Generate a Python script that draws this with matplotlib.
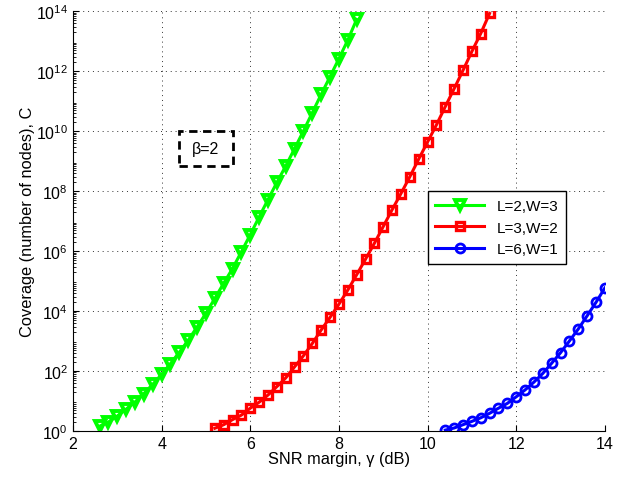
import numpy as np
import matplotlib
matplotlib.use("Agg")
import matplotlib.pyplot as plt
from matplotlib.patches import Rectangle
from matplotlib.ticker import LogLocator, NullFormatter

plt.rcParams['font.family'] = ['Liberation Sans', 'DejaVu Sans']

# SNR margin (dB) and log10 of coverage
snr_g = [2.6, 2.8, 3.0, 3.2, 3.4, 3.6, 3.8, 4.0, 4.2, 4.4, 4.6, 4.8, 5.0, 5.2, 5.4,
         5.6, 5.8, 6.0, 6.2, 6.4, 6.6, 6.8, 7.0, 7.2, 7.4, 7.6, 7.8, 8.0, 8.2, 8.4]
logc_g = [0.16, 0.30, 0.50, 0.73, 0.97, 1.25, 1.56, 1.89, 2.25, 2.63, 3.03, 3.47, 3.93, 4.42, 4.93,
          5.42, 5.98, 6.55, 7.14, 7.72, 8.29, 8.84, 9.42, 10.01, 10.62, 11.23, 11.82, 12.42, 13.04, 13.73]

snr_r = [5.2, 5.4, 5.6, 5.8, 6.0, 6.2, 6.4, 6.6, 6.8, 7.0, 7.2, 7.4, 7.6, 7.8, 8.0, 8.2,
         8.4, 8.6, 8.8, 9.0, 9.2, 9.4, 9.6, 9.8, 10.0, 10.2, 10.4, 10.6, 10.8, 11.0, 11.2, 11.4]
logc_r = [0.09, 0.21, 0.38, 0.53, 0.76, 0.96, 1.20, 1.48, 1.77, 2.14, 2.51, 2.92, 3.37, 3.79, 4.23, 4.70,
          5.21, 5.73, 6.26, 6.82, 7.38, 7.92, 8.48, 9.07, 9.64, 10.21, 10.82, 11.42, 12.03, 12.66, 13.26, 13.93]

snr_b = [10.4, 10.6, 10.8, 11.0, 11.2, 11.4, 11.6, 11.8, 12.0, 12.2, 12.4, 12.6, 12.8, 13.0,
         13.2, 13.4, 13.6, 13.8, 14.0]
logc_b = [0.03, 0.10, 0.21, 0.32, 0.44, 0.59, 0.76, 0.92, 1.14, 1.37, 1.63, 1.92, 2.26, 2.61,
          3.00, 3.40, 3.84, 4.29, 4.77]

labels = ['L=2,W=3', 'L=3,W=2', 'L=6,W=1']
xticks = [2, 4, 6, 8, 10, 12, 14]
yexp = [0, 2, 4, 6, 8, 10, 12, 14]

fig = plt.figure(figsize=(6.32, 4.85), dpi=100)
ax = fig.add_axes([0.1155, 0.1093, 0.8415, 0.8653])

ax.semilogy(snr_g, 10 ** np.array(logc_g), color=(0, 1, 0), lw=2.2, marker='v', ms=7.5,
            mfc='none', mew=2.8, label=labels[0])
ax.semilogy(snr_r, 10 ** np.array(logc_r), color=(1, 0, 0), lw=2.2, marker='s', ms=5.5,
            mfc='none', mew=2.4, label=labels[1])
ax.semilogy(snr_b, 10 ** np.array(logc_b), color=(0, 0, 1), lw=2.2, marker='o', ms=6.5,
            mfc='none', mew=2.0, label=labels[2])

ax.set_xlim(2, 14)
ax.set_ylim(1, 1e14)
ax.set_xticks(xticks)
ax.set_yticks([10.0 ** e for e in yexp])
ax.yaxis.set_minor_locator(LogLocator(base=10, subs=np.arange(2, 10), numticks=100))
ax.yaxis.set_minor_formatter(NullFormatter())
ax.tick_params(which='both', direction='in', labelsize=11.5)
ax.tick_params(which='major', length=4)
ax.tick_params(which='minor', length=2)
ax.grid(True, which='major', linestyle=(0, (1, 4)), color='#333333', lw=0.7)
for s in ['top', 'right']:
    ax.spines[s].set_visible(False)
for s in ['left', 'bottom']:
    ax.spines[s].set_linewidth(0.8)

ax.set_xlabel('SNR margin, γ (dB)', fontsize=11.8, labelpad=0)
ax.set_ylabel('Coverage (number of nodes), C', fontsize=11.8, labelpad=1)

ax.add_patch(Rectangle((4.4, 10 ** 8.84), 1.2, 10 ** 10 - 10 ** 8.84, fill=False,
                       edgecolor='black', lw=2, linestyle=(0, (3, 2)), zorder=5))
ax.text(5.0, 10 ** 9.42, 'β=2', ha='center', va='center', fontsize=11.5)

leg = ax.legend(loc='upper left', bbox_to_anchor=(0.667, 0.571), fontsize=11,
                fancybox=False, framealpha=1, edgecolor='black', borderpad=0.5,
                handlelength=3.2, labelspacing=0.5, borderaxespad=0)
leg.get_frame().set_linewidth(1.0)

fig.savefig('out.png', dpi=100)
